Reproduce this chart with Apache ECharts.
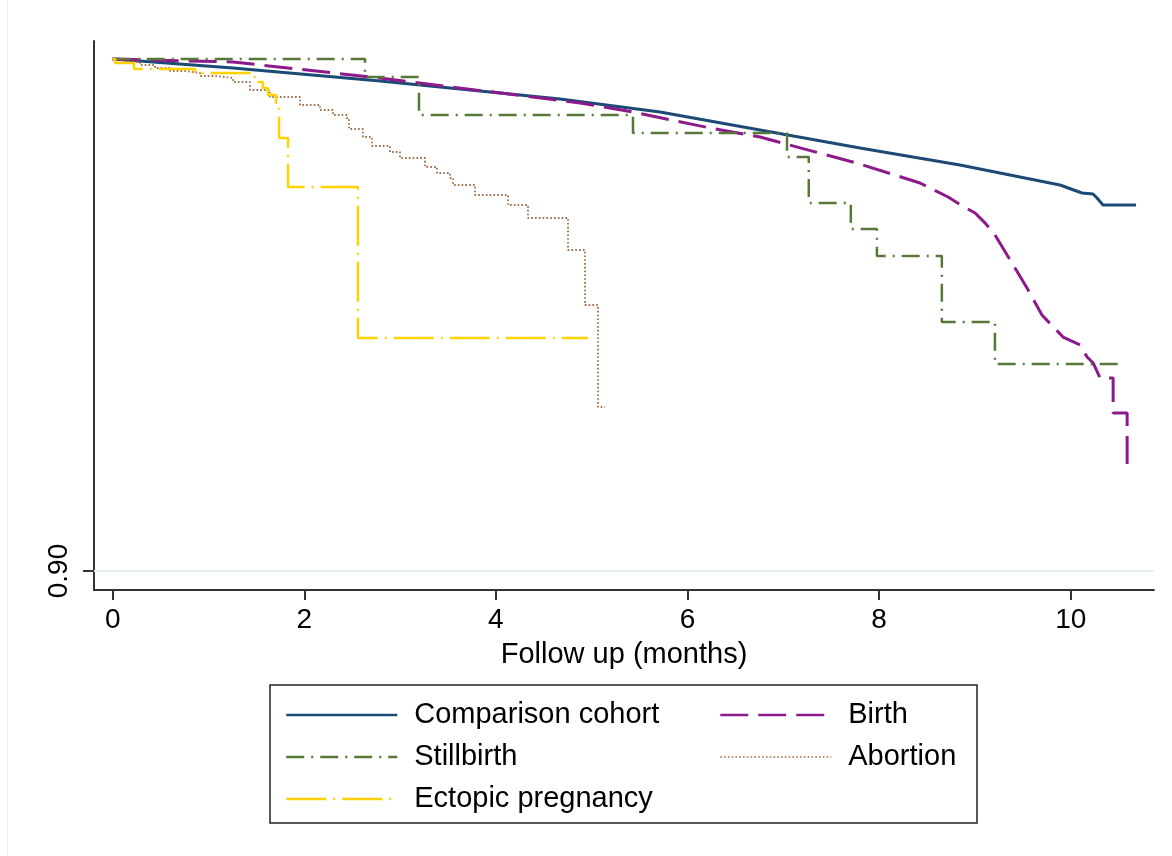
<!DOCTYPE html>
<html>
<head>
<meta charset="utf-8">
<script src="https://cdn.jsdelivr.net/npm/echarts@6/dist/echarts.min.js"></script>
<style>
  html, body { margin: 0; padding: 0; background: #ffffff; }
  #chart { width: 1172px; height: 856px; }
</style>
</head>
<body>
<div id="chart"></div>
<script>
// Follow-up time (months) and survival estimate pairs for each group
const xTicks = [0, 2, 4, 6, 8, 10];
const yTicks = [0.90];

const comparisonCohort = [
  [0, 1.0], [1.256, 0.99824], [2.79, 0.9957], [4.669, 0.99219], [5.713, 0.98965],
  [6.757, 0.98613], [7.80, 0.98262], [8.844, 0.9793], [9.888, 0.97539], [10.118, 0.97383],
  [10.233, 0.97363], [10.275, 0.97285], [10.337, 0.97148], [10.682, 0.97148]
];

const birth = [
  [0, 1.0], [1.256, 0.99941], [2.79, 0.99629], [4.878, 0.99141], [5.432, 0.98965],
  [6.236, 0.98652], [6.757, 0.98477], [7.80, 0.97949], [8.427, 0.97578], [8.72, 0.97305],
  [8.87, 0.9713], [9.002, 0.96992], [9.11, 0.9679], [9.21, 0.96563], [9.387, 0.96016],
  [9.544, 0.95527], [9.70, 0.95], [9.92, 0.9457], [10.098, 0.94414], [10.171, 0.9418],
  [10.234, 0.94063], [10.307, 0.9377], [10.443, 0.9377], [10.443, 0.93086], [10.589, 0.93086],
  [10.589, 0.9209], [10.662, 0.9209]
];

const stillbirth = [
  [0, 1.0], [2.634, 0.99648], [3.197, 0.98906], [5.431, 0.98555], [7.039, 0.98086],
  [7.266, 0.97188], [7.705, 0.9668], [7.977, 0.96152], [8.655, 0.94863], [9.209, 0.94043],
  [10.503, 0.94043]
];

const abortion = [
  [0, 1.0], [0.128, 0.99941], [0.285, 0.99883], [0.442, 0.99824], [0.598, 0.99766],
  [0.755, 0.99727], [0.911, 0.99668], [1.068, 0.99629], [1.256, 0.99551], [1.433, 0.99395],
  [1.642, 0.99258], [1.955, 0.99102], [2.164, 0.99004], [2.299, 0.98906], [2.445, 0.98809],
  [2.466, 0.98633], [2.612, 0.98477], [2.706, 0.98301], [2.894, 0.98184], [2.999, 0.98066],
  [3.26, 0.97891], [3.385, 0.97773], [3.521, 0.97676], [3.552, 0.97539], [3.782, 0.97344],
  [4.127, 0.97148], [4.335, 0.96895], [4.753, 0.9627], [4.93, 0.95195], [5.066, 0.93203],
  [5.139, 0.93203]
];

const ectopicPregnancy = [
  [0, 1.0], [0.025, 0.99922], [0.222, 0.99805], [0.859, 0.99727], [1.454, 0.99648],
  [1.516, 0.99551], [1.569, 0.99434], [1.621, 0.99297], [1.704, 0.99102], [1.736, 0.98457],
  [1.830, 0.975], [2.560, 0.94551], [4.962, 0.94551]
];

const FONT = "'Liberation Sans', Arial, Helvetica, sans-serif";
const AXIS_COLOR = '#333333';

const chart = echarts.init(document.getElementById('chart'), null, { renderer: 'canvas' });

const legendText = {
  fontSize: 29, color: '#000000', fontFamily: FONT, lineHeight: 34, padding: [0, 0, 0, 12]
};

const option = {
  backgroundColor: '#ffffff',
  animation: false,
  textStyle: { fontFamily: FONT },
  grid: { left: 94, right: 18, top: 41, bottom: 266, containLabel: false },
  xAxis: {
    type: 'value',
    min: -0.1952,
    max: 10.8695,
    name: 'Follow up (months)',
    nameLocation: 'middle',
    nameGap: 50,
    nameTextStyle: { fontSize: 29, color: '#000000', fontFamily: FONT },
    axisLine: { show: true, onZero: false, lineStyle: { color: AXIS_COLOR, width: 2 } },
    axisTick: { show: true, length: 10, customValues: xTicks, lineStyle: { color: AXIS_COLOR, width: 2 } },
    axisLabel: { show: true, customValues: xTicks, margin: 16, fontSize: 28, color: '#000000', fontFamily: FONT },
    splitLine: { show: false }
  },
  yAxis: {
    type: 'value',
    min: 0.896289,
    max: 1.003516,
    axisLine: { show: true, onZero: false, lineStyle: { color: AXIS_COLOR, width: 2 } },
    axisTick: { show: true, length: 11, customValues: yTicks, lineStyle: { color: AXIS_COLOR, width: 2 } },
    axisLabel: {
      show: true, customValues: yTicks, rotate: 90, margin: 21, fontSize: 28,
      color: '#000000', fontFamily: FONT,
      formatter: v => v.toFixed(2)
    },
    splitLine: { show: false }
  },
  legend: [
    {
      orient: 'vertical',
      left: 280,
      top: 693,
      itemWidth: 111,
      itemHeight: 4,
      itemGap: 8,
      selectedMode: false,
      itemStyle: { opacity: 0 },
      textStyle: legendText,
      data: [
        { name: 'Comparison cohort', lineStyle: { width: 2.5 } },
        { name: 'Stillbirth', lineStyle: { width: 2.5 } },
        { name: 'Ectopic pregnancy', lineStyle: { width: 2.5 } }
      ]
    },
    {
      orient: 'vertical',
      left: 714,
      top: 693,
      itemWidth: 111,
      itemHeight: 4,
      itemGap: 8,
      selectedMode: false,
      itemStyle: { opacity: 0 },
      textStyle: legendText,
      data: [
        { name: 'Birth', lineStyle: { width: 2.5 } },
        { name: 'Abortion', lineStyle: { width: 1.6 } }
      ]
    }
  ],
  graphic: [
    {
      type: 'rect',
      shape: { x: 270, y: 685, width: 707, height: 138 },
      style: { fill: 'none', stroke: '#222222', lineWidth: 1.5 },
      silent: true
    },
    {
      type: 'line',
      shape: { x1: 7.5, y1: 0, x2: 7.5, y2: 856 },
      style: { stroke: '#eeeeee', lineWidth: 1 },
      silent: true
    }
  ],
  series: [
    {
      name: 'Comparison cohort',
      type: 'line',
      data: comparisonCohort,
      symbol: 'none',
      color: '#1b4a74',
      lineStyle: { color: '#1b4a74', width: 3 },
      z: 2,
      markLine: {
        silent: true,
        symbol: 'none',
        label: { show: false },
        lineStyle: { color: '#e4eef0', width: 2, type: 'solid' },
        data: [{ yAxis: 0.90 }],
        z: 1
      }
    },
    {
      name: 'Birth',
      type: 'line',
      data: birth,
      symbol: 'none',
      color: '#8c1a8c',
      lineStyle: { color: '#8c1a8c', width: 3, type: [28, 10] },
      z: 3
    },
    {
      name: 'Stillbirth',
      type: 'line',
      data: stillbirth,
      step: 'end',
      symbol: 'none',
      color: '#58783a',
      lineStyle: { color: '#58783a', width: 2.5, type: [18, 7, 2, 7] },
      z: 4
    },
    {
      name: 'Abortion',
      type: 'line',
      data: abortion,
      step: 'end',
      symbol: 'none',
      color: '#a06a42',
      lineStyle: { color: '#a06a42', width: 1.8, type: [1.6, 2.2] },
      z: 5
    },
    {
      name: 'Ectopic pregnancy',
      type: 'line',
      data: ectopicPregnancy,
      step: 'end',
      symbol: 'none',
      color: '#ffd200',
      lineStyle: { color: '#ffd200', width: 2.5, type: [40, 7, 2, 7] },
      z: 6
    }
  ]
};

chart.setOption(option);
</script>
</body>
</html>
